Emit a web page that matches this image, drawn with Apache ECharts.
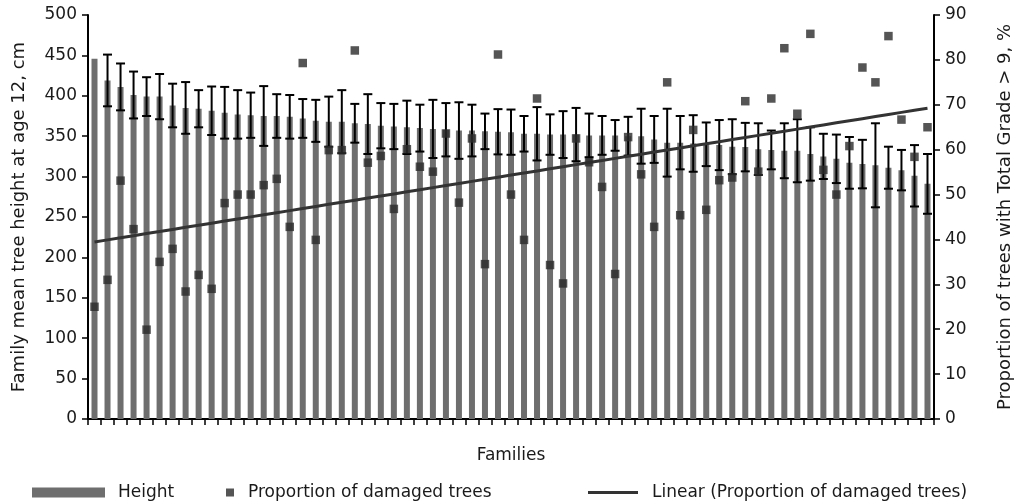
<!DOCTYPE html>
<html>
<head>
<meta charset="utf-8">
<script src="https://cdn.jsdelivr.net/npm/echarts@6/dist/echarts.min.js"></script>
<style>
html,body{margin:0;padding:0;background:#fff;}
#chart{width:1023px;height:503px;}
</style>
</head>
<body>
<div id="chart"></div>
<script>
// Family labels (hidden on the axis)
const families = Array.from({length: 65}, (_, i) => 'Family ' + (i + 1));

// Family mean tree height at age 12, cm
const heights = [
  446, 419, 411, 401, 399, 399, 388, 385, 384, 381.5,
  379, 377, 376, 375, 375, 374, 372, 369, 368, 368,
  366, 365, 363, 362, 361, 360, 359, 358, 357, 357,
  356, 355.5, 355, 353, 353, 352, 352, 352, 351, 351,
  351, 350, 350, 346, 342, 342, 341, 340, 339, 337,
  336.5, 334, 333, 332, 332, 328, 325, 322, 317, 315.5,
  314, 311, 308, 301, 291
];

// Half-width of error bars (cm); first family has none
const heightErrors = [
  null, 32, 29, 29, 24, 28, 27, 32, 23, 30,
  32, 30, 28, 37, 27, 27, 24, 26, 31, 39,
  24, 37, 28, 28, 33, 29, 36, 33, 35, 32,
  22, 28, 28, 22, 33, 25, 29, 33, 27, 24,
  19, 24, 34, 29, 42, 33, 35, 27, 31, 34,
  30, 32, 24, 34, 39, 33, 28, 30, 32, 30,
  52, 26, 25, 38, 37
];

// Proportion of trees with Total Grade > 9, %
const damaged = [
  25.0, 31.0, 53.1, 42.3, 19.9, 35.0, 37.9, 28.4, 32.1, 29.0,
  48.1, 50.0, 50.0, 52.1, 53.5, 42.8, 79.3, 39.9, 59.9, 59.9,
  82.1, 57.1, 58.6, 46.8, 60.1, 56.2, 55.1, 63.6, 48.2, 62.5,
  34.5, 81.2, 50.0, 39.9, 71.4, 34.3, 30.2, 62.5, 57.2, 51.7,
  32.3, 62.8, 54.5, 42.8, 75.0, 45.4, 64.4, 46.6, 53.2, 53.8,
  70.8, 55.1, 71.4, 82.6, 68.0, 85.8, 55.5, 50.0, 60.8, 78.3,
  75.0, 85.3, 66.7, 58.4, 65.0
];

const leftTicks = {min: 0, max: 500, interval: 50};
const rightTicks = {min: 0, max: 90, interval: 10};

// Linear trend (least squares) of the damaged proportion over family rank
const n = damaged.length;
let sx = 0, sy = 0, sxx = 0, sxy = 0;
damaged.forEach((v, i) => { sx += i; sy += v; sxx += i * i; sxy += i * v; });
const slope = (n * sxy - sx * sy) / (n * sxx - sx * sx);
const intercept = (sy - slope * sx) / n;
const trend = damaged.map((_, i) => intercept + slope * i);

const errorData = heights.map((h, i) => [i, h, heightErrors[i]]);

const FONT = 'DejaVu Sans';
const FS = 17;
const FT = 18;
const TXT = '#1a1a1a';

const chart = echarts.init(document.getElementById('chart'), null, {renderer: 'canvas'});
chart.setOption({
  animation: false,
  backgroundColor: '#ffffff',
  textStyle: {fontFamily: FONT, color: TXT},
  grid: {left: 88, right: 89, top: 15, bottom: 84, containLabel: false},
  legend: [
    {
      data: [{name: 'Height', icon: 'rect'}],
      left: 27, top: 479, itemWidth: 73, itemHeight: 10,
      textStyle: {fontFamily: FONT, fontSize: FS, color: TXT, padding: [0, 0, 0, 8]}
    },
    {
      data: [{name: 'Proportion of damaged trees', icon: 'rect'}],
      left: 221, top: 479, itemWidth: 8, itemHeight: 8,
      textStyle: {fontFamily: FONT, fontSize: FS, color: TXT, padding: [0, 0, 0, 9]}
    },
    {
      data: [{name: 'Linear (Proportion of damaged trees)', icon: 'rect'}],
      left: 583, top: 479, itemWidth: 50, itemHeight: 3,
      textStyle: {fontFamily: FONT, fontSize: FS, color: TXT, padding: [0, 0, 0, 9]}
    }
  ],
  xAxis: {
    type: 'category',
    data: families,
    boundaryGap: true,
    name: 'Families',
    nameLocation: 'middle',
    nameGap: 28,
    nameTextStyle: {fontFamily: FONT, fontSize: FS, color: TXT},
    axisLine: {show: true, lineStyle: {color: '#000', width: 2}},
    axisTick: {show: true, alignWithLabel: false, length: 6, lineStyle: {color: '#000', width: 1.5}, interval: 0},
    axisLabel: {show: false},
    splitLine: {show: false}
  },
  yAxis: [
    {
      type: 'value',
      min: leftTicks.min, max: leftTicks.max, interval: leftTicks.interval,
      name: 'Family mean tree height at age 12, cm',
      nameLocation: 'middle',
      nameGap: 60,
      nameRotate: 90,
      nameTextStyle: {fontFamily: FONT, fontSize: FT, color: TXT},
      axisLine: {show: true, lineStyle: {color: '#000', width: 2}},
      axisTick: {show: true, length: 6, lineStyle: {color: '#000', width: 1.5}},
      axisLabel: {fontFamily: FONT, fontSize: FS, color: TXT, margin: 11},
      splitLine: {show: false}
    },
    {
      type: 'value',
      position: 'right',
      min: rightTicks.min, max: rightTicks.max, interval: rightTicks.interval,
      name: 'Proportion of trees with Total Grade > 9, %',
      nameLocation: 'middle',
      nameGap: 62,
      nameRotate: 90,
      nameTextStyle: {fontFamily: FONT, fontSize: FT, color: TXT},
      axisLine: {show: true, lineStyle: {color: '#000', width: 2}},
      axisTick: {show: true, length: 6, lineStyle: {color: '#000', width: 1.5}},
      axisLabel: {fontFamily: FONT, fontSize: FS, color: TXT, margin: 11},
      splitLine: {show: false}
    }
  ],
  series: [
    {
      name: 'Height',
      type: 'bar',
      yAxisIndex: 0,
      data: heights,
      barWidth: 6,
      itemStyle: {color: '#6e6e6e'},
      z: 2
    },
    {
      name: 'err',
      type: 'custom',
      yAxisIndex: 0,
      data: errorData,
      z: 3,
      silent: true,
      renderItem: function (params, api) {
        const e = api.value(2);
        if (e === null || e === undefined || isNaN(e)) return null;
        const idx = api.value(0);
        const h = api.value(1);
        const top = api.coord([idx, h + e]);
        const bot = api.coord([idx, h - e]);
        const hw = 4.5;
        const style = {stroke: '#000', lineWidth: 2, fill: null};
        return {
          type: 'group',
          children: [
            {type: 'line', shape: {x1: top[0], y1: top[1], x2: bot[0], y2: bot[1]}, style: style},
            {type: 'line', shape: {x1: top[0] - hw, y1: top[1], x2: top[0] + hw, y2: top[1]}, style: style},
            {type: 'line', shape: {x1: bot[0] - hw, y1: bot[1], x2: bot[0] + hw, y2: bot[1]}, style: style}
          ]
        };
      }
    },
    {
      name: 'Linear (Proportion of damaged trees)',
      type: 'line',
      yAxisIndex: 1,
      data: trend,
      showSymbol: false,
      symbol: 'none',
      lineStyle: {color: '#333333', width: 3},
      itemStyle: {color: '#333333'},
      z: 4
    },
    {
      name: 'Proportion of damaged trees',
      type: 'scatter',
      yAxisIndex: 1,
      data: damaged,
      symbol: 'rect',
      symbolSize: 8.5,
      itemStyle: {color: '#2b2b2b'},
      z: 5
    }
  ]
});
</script>
</body>
</html>
